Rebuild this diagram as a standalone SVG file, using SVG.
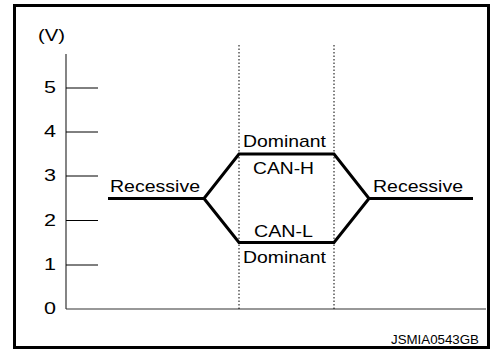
<svg xmlns="http://www.w3.org/2000/svg" width="504" height="351" viewBox="0 0 504 351">
<style>
.t{font-family:"Liberation Sans",Arial,sans-serif;font-size:17px;fill:#000}
.ax{stroke:#333;stroke-width:1.2;fill:none}
.tk{stroke:#000;stroke-width:1;fill:none}
.dot{stroke:#000;stroke-width:1;stroke-dasharray:1.5 2;fill:none}
.sig{stroke:#000;stroke-width:3;fill:none;stroke-linejoin:miter}
</style>
<rect x="0" y="0" width="504" height="351" fill="#fff"/>
<rect x="14.5" y="5.5" width="474" height="342" fill="none" stroke="#000" stroke-width="3"/>
<g id="axes">
<line class="ax" x1="66" y1="54" x2="66" y2="309"/>
<line class="ax" x1="66" y1="309" x2="486" y2="309"/>
<line class="tk" x1="66" y1="88" x2="98" y2="88"/>
<line class="tk" x1="66" y1="132" x2="98" y2="132"/>
<line class="tk" x1="66" y1="176" x2="98" y2="176"/>
<line class="tk" x1="66" y1="220.5" x2="98" y2="220.5"/>
<line class="tk" x1="66" y1="265" x2="98" y2="265"/>
<text class="t" x="38" y="41" textLength="27" lengthAdjust="spacingAndGlyphs">(V)</text>
<text class="t" x="44" y="93" textLength="12" lengthAdjust="spacingAndGlyphs">5</text>
<text class="t" x="44" y="137" textLength="12" lengthAdjust="spacingAndGlyphs">4</text>
<text class="t" x="44" y="181" textLength="12" lengthAdjust="spacingAndGlyphs">3</text>
<text class="t" x="44" y="225.5" textLength="12" lengthAdjust="spacingAndGlyphs">2</text>
<text class="t" x="44" y="270" textLength="12" lengthAdjust="spacingAndGlyphs">1</text>
<text class="t" x="44" y="314" textLength="12" lengthAdjust="spacingAndGlyphs">0</text>
</g>
<g id="connectors">
<line class="dot" x1="239" y1="45" x2="239" y2="309"/>
<line class="dot" x1="334" y1="45" x2="334" y2="309"/>
<polyline class="sig" points="108,198.5 204,198.5 239,154 334,154 369,198.5 473,198.5"/>
<polyline class="sig" points="204,198.5 239,242.5 334,242.5 369,198.5"/>
</g>
<g id="labels">
<text class="t" x="110" y="192" textLength="90" lengthAdjust="spacingAndGlyphs">Recessive</text>
<text class="t" x="373" y="192" textLength="90" lengthAdjust="spacingAndGlyphs">Recessive</text>
<text class="t" x="243" y="146.5" textLength="83" lengthAdjust="spacingAndGlyphs">Dominant</text>
<text class="t" x="253" y="174" textLength="61" lengthAdjust="spacingAndGlyphs">CAN-H</text>
<text class="t" x="254" y="236.5" textLength="59" lengthAdjust="spacingAndGlyphs">CAN-L</text>
<text class="t" x="243" y="263" textLength="83" lengthAdjust="spacingAndGlyphs">Dominant</text>
<text class="t" x="391" y="344" style="font-size:12.5px" textLength="88" lengthAdjust="spacingAndGlyphs">JSMIA0543GB</text>
</g>
</svg>
